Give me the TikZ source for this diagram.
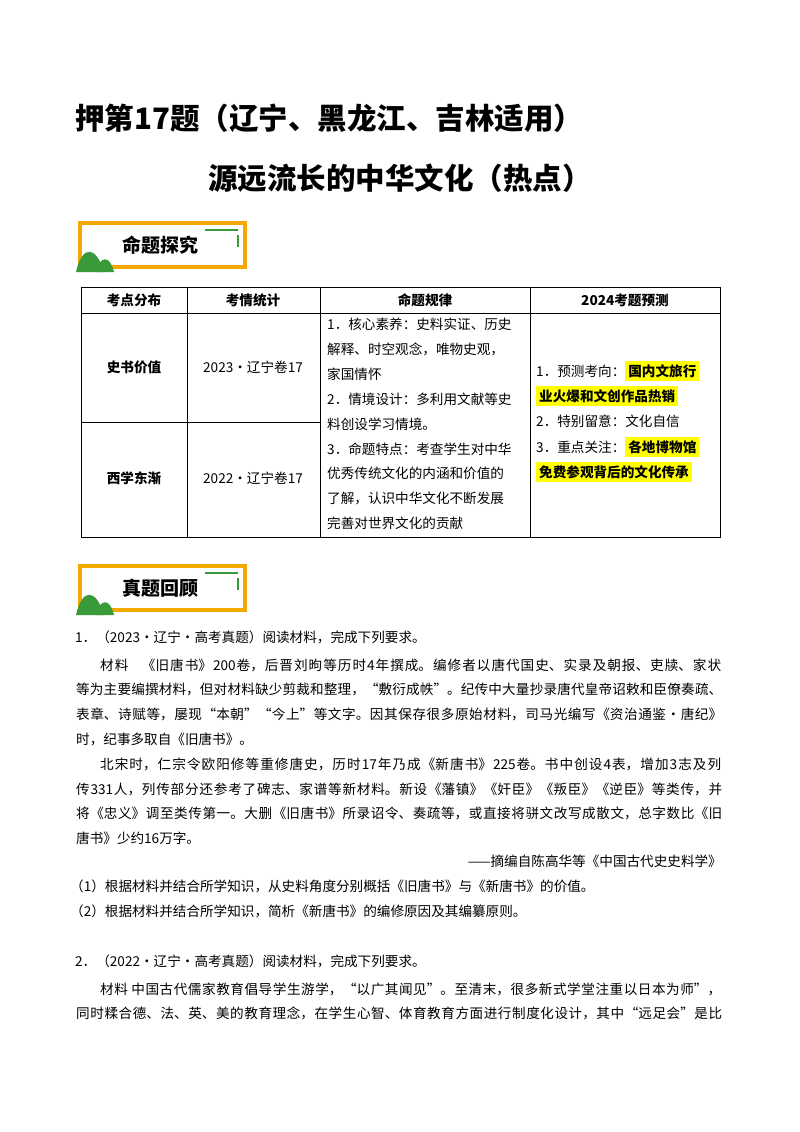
\documentclass[tikz,border=0pt]{standalone}
\usepackage{fontspec}
\setmainfont{Liberation Serif}
\newfontfamily\cjk{Noto Sans CJK SC}
\XeTeXlinebreaklocale "zh"
\XeTeXlinebreakskip=0pt plus 2pt
\definecolor{org}{HTML}{F5A800}
\definecolor{grn}{HTML}{3A9A3A}
\definecolor{hl}{HTML}{FFFF00}
\tikzset{
 tx/.style={anchor=west,inner sep=0pt,font=\cjk\fontsize{13.6}{14}\selectfont},
 tc/.style={anchor=center,inner sep=0pt,font=\cjk\fontsize{13.6}{14}\selectfont},
 hd/.style={anchor=center,inner sep=0pt,font=\cjk\bfseries\fontsize{13.6}{14}\selectfont},
 ttl/.style={anchor=west,inner sep=0pt,font=\cjk\bfseries\fontsize{29.5}{31}\selectfont},
 bn/.style={anchor=center,inner sep=0pt,font=\cjk\bfseries\fontsize{19}{20}\selectfont},
 hi/.style={fill=hl}
}
\newcommand{\JL}[2]{\parbox[c]{#1}{\parindent=0pt\parfillskip=0pt\emergencystretch=20pt\relax #2}}
\newcommand{\FL}[1]{\JL{646pt}{#1}}
\begin{document}
\begin{tikzpicture}[x=1pt,y=-1pt]
\useasboundingbox[fill=white] (0,0) rectangle (800,1132);
\node[ttl] (t1) at (75,118) {押第17题（辽宁、黑龙江、吉林适用）};
\node[ttl] (t2) at (208,178) {源远流长的中华文化（热点）};
\newcommand{\banner}[3]{%
 \draw[org,line width=4pt] (80,#1) rectangle (245,#2);
 \draw[grn,line width=2pt] (205,#1+7) -- (238,#1+7);
 \draw[grn,line width=2pt] (238,#1+12) -- (238,#1+24);
 \fill[grn] (76,#2+5) .. controls (82,#2-22) and (96,#2-22) .. (104,#2+5) -- cycle;
 \fill[grn] (96,#2+5) .. controls (100,#2-12) and (110,#2-12) .. (114,#2+5) -- cycle;
 \node[bn] at (160,{(#1+#2)/2}) {#3};}
\banner{223}{267}{命题探究}
\draw[black,line width=0.7pt] (81,287) rectangle (720,537);
\draw (81,313) -- (720,313);
\draw (81,422) -- (320,422);
\foreach \x in {187,320,530} \draw (\x,287) -- (\x,537);
\node[hd] (h1) at (134,300) {考点分布};
\node[hd] (h2) at (253,300) {考情统计};
\node[hd] (h3) at (425,300) {命题规律};
\node[hd] (h4) at (625,300) {2024考题预测};
\node[hd] (r1) at (134,367) {史书价值};
\node[tc] (r1b) at (253,367) {2023·辽宁卷17};
\node[hd] (r2) at (134,478) {西学东渐};
\node[tc] (r2b) at (253,478) {2022·辽宁卷17};
\foreach \t [count=\i] in {1．核心素养：史料实证、历史,解释、时空观念，唯物史观，,家国情怀,2．情境设计：多利用文献等史,料创设学习情境。,3．命题特点：考查学生对中华,优秀传统文化的内涵和价值的,了解，认识中华文化不断发展,完善对世界文化的贡献}
  \node[tx] at (327,{300+\i*24.8}) {\t};
\node[tx] (p1) at (536,371) {1．预测考向：\colorbox{hl}{\bfseries 国内文旅行}};
\node[tx] (p2) at (536,396) {\colorbox{hl}{\bfseries 业火爆和文创作品热销}};
\node[tx] (p3) at (536,421) {2．特别留意：文化自信};
\node[tx] (p4) at (536,447) {3．重点关注：\colorbox{hl}{\bfseries 各地博物馆}};
\node[tx] (p5) at (536,472) {\colorbox{hl}{\bfseries 免费参观背后的文化传承}};
\banner{566}{610}{真题回顾}
\node[tx] (q1) at (75,637) {1．（2023·辽宁·高考真题）阅读材料，完成下列要求。};
\node[tx] (a1) at (100,665) {\JL{621pt}{材料\quad 《旧唐书》200卷，后晋刘昫等历时4年撰成。编修者以唐代国史、实录及朝报、吏牍、家状}};
\node[tx] (a2) at (76,689) {\FL{等为主要编撰材料，但对材料缺少剪裁和整理，“敷衍成帙”。纪传中大量抄录唐代皇帝诏敕和臣僚奏疏、}};
\node[tx] (a3) at (76,714) {\FL{表章、诗赋等，屡现“本朝”“今上”等文字。因其保存很多原始材料，司马光编写《资治通鉴·唐纪》}};
\node[tx] (a4) at (76,739) {时，纪事多取自《旧唐书》。};
\node[tx] (a5) at (100,764) {\JL{621pt}{北宋时，仁宗令欧阳修等重修唐史，历时17年乃成《新唐书》225卷。书中创设4表，增加3志及列}};
\node[tx] (a6) at (76,789) {\FL{传331人，列传部分还参考了碑志、家谱等新材料。新设《藩镇》《奸臣》《叛臣》《逆臣》等类传，并}};
\node[tx] (a7) at (76,813) {\FL{将《忠义》调至类传第一。大删《旧唐书》所录诏令、奏疏等，或直接将骈文改写成散文，总字数比《旧}};
\node[tx] (a8) at (76,838) {唐书》少约16万字。};
\node[tx,anchor=east] (src) at (722,861) {——摘编自陈高华等《中国古代史史料学》};
\node[tx] (s1) at (70,886) {（1）根据材料并结合所学知识，从史料角度分别概括《旧唐书》与《新唐书》的价值。};
\node[tx] (s2) at (70,911) {（2）根据材料并结合所学知识，简析《新唐书》的编修原因及其编纂原则。};
\node[tx] (q2) at (75,961) {2．（2022·辽宁·高考真题）阅读材料，完成下列要求。};
\node[tx] (b1) at (100,989) {\JL{621pt}{材料\ 中国古代儒家教育倡导学生游学，“以广其闻见”。至清末，很多新式学堂注重以日本为师”，}};
\node[tx] (b2) at (76,1013) {\FL{同时糅合德、法、英、美的教育理念，在学生心智、体育教育方面进行制度化设计，其中“远足会”是比}};
\end{tikzpicture}
\end{document}
